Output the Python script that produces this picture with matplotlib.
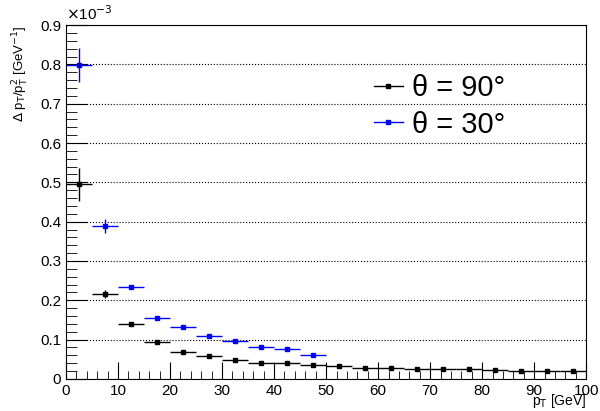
import numpy as np
import matplotlib.pyplot as plt
from matplotlib.ticker import MultipleLocator
from matplotlib.lines import Line2D

plt.rcParams['font.family'] = ['Liberation Sans', 'DejaVu Sans']

# resolution values in units of 1e-3 GeV^-1
pt_bins = [2.5, 7.5, 12.5, 17.5, 22.5, 27.5, 32.5, 37.5, 42.5, 47.5,
           52.5, 57.5, 62.5, 67.5, 72.5, 77.5, 82.5, 87.5, 92.5, 97.5]
res_90 = [0.495, 0.216, 0.141, 0.093, 0.069, 0.058, 0.048, 0.041, 0.040, 0.036,
          0.032, 0.027, 0.027, 0.025, 0.025, 0.025, 0.022, 0.020, 0.020, 0.020]
err_90 = [0.042, 0.011, 0.004, 0.003, 0.002, 0.002, 0.002, 0.001, 0.001, 0.001,
          0.001, 0.001, 0.001, 0.001, 0.001, 0.001, 0.001, 0.001, 0.001, 0.001]
res_30 = [0.798, 0.389, 0.233, 0.155, 0.131, 0.108, 0.096, 0.081, 0.075, 0.061]
err_30 = [0.043, 0.017, 0.005, 0.004, 0.003, 0.003, 0.002, 0.002, 0.002, 0.002]
labels = ['θ = 90°', 'θ = 30°']
bin_half = 2.5

fig = plt.figure(figsize=(6, 4.11), dpi=100)
ax = fig.add_axes([0.11, 0.078, 0.867, 0.861])

ax.errorbar(pt_bins, res_90, yerr=err_90, xerr=bin_half, linestyle='', color='black',
            marker='s', markersize=3.5, elinewidth=1, capsize=0)
ax.errorbar(pt_bins[:len(res_30)], res_30, yerr=err_30, xerr=bin_half, linestyle='',
            color='blue', marker='s', markersize=3.5, elinewidth=1, capsize=0)

ax.set_xlim(0, 100)
ax.set_ylim(0, 0.9)
ax.xaxis.set_major_locator(MultipleLocator(10))
ax.xaxis.set_minor_locator(MultipleLocator(2))
ax.yaxis.set_major_locator(MultipleLocator(0.1))
ax.yaxis.set_minor_locator(MultipleLocator(0.02))
ax.tick_params(which='both', direction='in', top=False, right=False, labelsize=11)
ax.tick_params(axis='x', which='major', length=12)
ax.tick_params(axis='x', which='minor', length=6)
ax.tick_params(axis='y', which='major', length=15)
ax.tick_params(axis='y', which='minor', length=8)
ax.set_xticklabels([f"{int(v)}" for v in ax.get_xticks()])
ax.set_yticklabels(["0" if v == 0 else f"{v:.1f}" for v in ax.get_yticks()])
ax.grid(True, axis='y', which='major', linestyle=':', color='black', linewidth=0.8)

# axis titles placed like ROOT does: right/top aligned
fig.text(0.977, 0.002, r'p$_{\mathrm{T}}$ [GeV]', fontsize=10, ha='right', va='bottom')
fig.text(0.035, 0.939, r'$\Delta$ p$_{\mathrm{T}}$/p$_{\mathrm{T}}^{2}$ [GeV$^{-1}$]',
         fontsize=9.5, rotation=90, ha='center', va='top')
ax.text(0.0, 1.005, r'$\times$10$^{-3}$', transform=ax.transAxes, fontsize=11,
        ha='left', va='bottom')

handles = [Line2D([], [], color='black', marker='s', markersize=3.5, linewidth=1),
           Line2D([], [], color='blue', marker='s', markersize=3.5, linewidth=1)]
ax.legend(handles, labels, loc='upper left', bbox_to_anchor=(0.569, 0.895), frameon=False,
          fontsize=21, handlelength=1.0, handletextpad=0.3, labelspacing=0.3,
          borderaxespad=0)

fig.savefig('out.png', dpi=100)
